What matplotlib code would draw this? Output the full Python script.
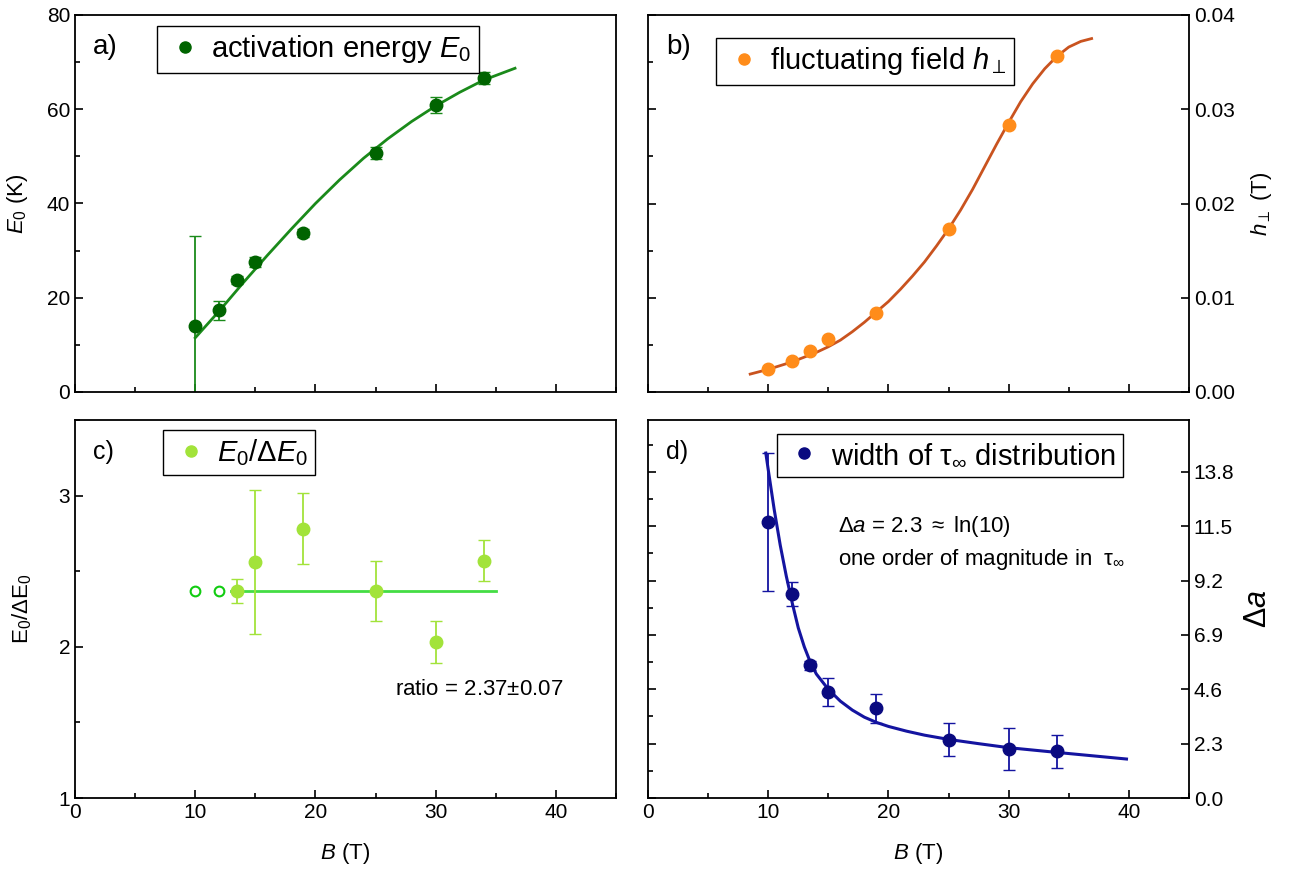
import numpy as np
import matplotlib
matplotlib.use('Agg')
import matplotlib.pyplot as plt
from matplotlib.lines import Line2D
from matplotlib.ticker import MultipleLocator, FixedLocator, FormatStrFormatter

plt.rcParams['font.family'] = ['Liberation Sans', 'DejaVu Sans']
plt.rcParams['mathtext.fontset'] = 'custom'
plt.rcParams['mathtext.rm'] = 'Liberation Sans'
plt.rcParams['mathtext.it'] = 'Liberation Sans:italic'
plt.rcParams['mathtext.bf'] = 'Liberation Sans:bold'

# field values (T)
B = [10, 12, 13.5, 15, 19, 25, 30, 34]

# a) activation energy
E0 = [14.0, 17.3, 23.8, 27.6, 33.7, 50.7, 61.0, 66.6]
E0_err = [19.2, 2.0, 0.8, 1.0, 0.9, 1.2, 1.7, 1.2]
fitA_B = [10, 12, 14, 16, 18, 20, 22, 24, 26, 28, 30, 32, 34, 36.6]
fitA_E = [11.5, 17.2, 23.2, 29.0, 34.6, 40.0, 45.0, 49.6, 53.7, 57.4, 60.7, 63.6, 66.2, 68.7]

# b) fluctuating field
h = [0.0024, 0.0033, 0.0043, 0.0056, 0.0084, 0.0173, 0.0283, 0.0357]
fitB_B = [8.5, 10, 11, 12, 13, 14, 15, 16, 17, 18, 19, 20, 21, 22, 23, 24, 25, 26, 27, 28,
          29, 30, 31, 32, 33, 34, 35, 36, 36.9]
fitB_h = [0.0019, 0.0024, 0.0028, 0.0032, 0.0037, 0.0042, 0.0048, 0.0055, 0.0064, 0.0074,
          0.0085, 0.0096, 0.0109, 0.0123, 0.0138, 0.0155, 0.0173, 0.0193, 0.0215, 0.0239,
          0.0263, 0.0286, 0.0308, 0.0327, 0.0343, 0.0356, 0.0366, 0.0372, 0.0375]

# c) ratio E0/dE0
Bc = [13.5, 15, 19, 25, 30, 34]
ratio = [2.37, 2.56, 2.78, 2.37, 2.03, 2.57]
ratio_err = [0.08, 0.475, 0.235, 0.2, 0.14, 0.135]
Bc_open = [10, 12]
ratio_open = [2.37, 2.37]
ratio_fit = 2.37
ratio_fit_B = [13, 35]

# d) width of tau distribution
da = [11.68, 8.64, 5.61, 4.48, 3.79, 2.47, 2.08, 1.98]
da_err = [2.93, 0.5, 0.2, 0.6, 0.6, 0.7, 0.88, 0.7]
fitD_B = [9.8, 10.0, 10.5, 11.0, 11.5, 12.0, 12.5, 13.0, 13.5, 14.0, 15.0, 16.0, 17.0, 18.0,
          19.0, 20.0, 21.5, 23.0, 25.0, 27.5, 30.0, 34.0, 39.8]
fitD_a = [14.6, 13.9, 12.2, 10.7, 9.4, 8.25, 7.2, 6.4, 5.75, 5.25, 4.6, 4.1, 3.72, 3.42,
          3.2, 3.03, 2.83, 2.66, 2.48, 2.3, 2.13, 1.93, 1.65]

W, H = 1298, 875
fig = plt.figure(figsize=(W / 100, H / 100), dpi=100)

def box(x0, x1, y0, y1):
    return [x0 / W, 1 - y1 / H, (x1 - x0) / W, (y1 - y0) / H]

axA = fig.add_axes(box(75, 616, 15, 392))
axB = fig.add_axes(box(648, 1189, 15, 392))
axC = fig.add_axes(box(75, 616, 420, 798))
axD = fig.add_axes(box(648, 1189, 420, 798))

tick_fs = 15
for ax in (axA, axB, axC, axD):
    ax.set_xlim(0, 45)
    ax.xaxis.set_major_locator(MultipleLocator(10))
    ax.xaxis.set_minor_locator(MultipleLocator(5))
    ax.tick_params(which='both', direction='in', top=False, labelsize=tick_fs, width=1.2)
    ax.tick_params(which='major', length=6)
    ax.tick_params(which='minor', length=3.5)
    for s in ax.spines.values():
        s.set_linewidth(1.3)

cA_pt, cA_ln = '#006400', '#1a8a1a'
cB_pt, cB_ln = '#ff8c1a', '#c9531f'
cC_pt, cC_open, cC_ln = '#a2e33a', '#11cc11', '#44dd44'
cD_pt, cD_ln = '#0a0a80', '#1414a0'

def leg(ax, color, label, x, y):
    handle = Line2D([], [], ls='', marker='o', ms=8, color=color)
    lg = ax.legend([handle], [label], loc='upper left', bbox_to_anchor=(x, y),
                   fontsize=21, frameon=True, fancybox=False, edgecolor='black',
                   framealpha=1, borderpad=0.25, handletextpad=0.2, handlelength=1.4,
                   borderaxespad=0)
    lg.get_frame().set_linewidth(1.0)

# a)
axA.errorbar(B, E0, yerr=E0_err, fmt='o', ms=9, color=cA_pt, ecolor=cA_ln, elinewidth=1.3, capsize=4)
axA.plot(fitA_B, fitA_E, color=cA_ln, lw=2)
axA.set_ylim(0, 80)
axA.yaxis.set_major_locator(MultipleLocator(20))
axA.yaxis.set_minor_locator(MultipleLocator(10))
axA.tick_params(labelbottom=False, right=False)
axA.set_ylabel('$E_0$ (K)', fontsize=16, labelpad=12)
axA.text(0.033, 0.915, 'a)', transform=axA.transAxes, fontsize=20, va='center')
leg(axA, cA_pt, 'activation energy $E_0$', 0.152, 0.971)

# b)
axB.plot(fitB_B, fitB_h, color=cB_ln, lw=2)
axB.plot(B, h, 'o', ms=9, color=cB_pt)
axB.set_ylim(0, 0.04)
axB.yaxis.set_major_locator(MultipleLocator(0.01))
axB.yaxis.set_minor_locator(MultipleLocator(0.005))
axB.yaxis.set_major_formatter(FormatStrFormatter('%.2f'))
axB.tick_params(labelbottom=False, left=True, right=True, labelleft=False, labelright=True)
axB.yaxis.set_label_position('right')
axB.set_ylabel(r'$h_\perp$ (T)', fontsize=16, labelpad=10)
axB.text(0.033, 0.915, 'b)', transform=axB.transAxes, fontsize=20, va='center')
leg(axB, cB_pt, r'fluctuating field $h_\perp$', 0.126, 0.939)

# c)
axC.plot(ratio_fit_B, [ratio_fit, ratio_fit], color=cC_ln, lw=2)
axC.errorbar(Bc, ratio, yerr=ratio_err, fmt='o', ms=9, color=cC_pt, ecolor=cC_pt, elinewidth=1.3, capsize=4)
axC.plot(Bc_open, ratio_open, 'o', ms=7, mfc='white', mec=cC_open, mew=1.5)
axC.set_ylim(1, 3.5)
axC.yaxis.set_major_locator(MultipleLocator(1))
axC.yaxis.set_minor_locator(MultipleLocator(0.5))
axC.tick_params(right=False)
axC.set_ylabel(r'$\mathrm{E_0/\Delta E_0}$', fontsize=16, labelpad=18)
axC.set_xlabel('$B$ (T)', fontsize=16, labelpad=14)
axC.text(0.033, 0.915, 'c)', transform=axC.transAxes, fontsize=18, va='center')
axC.text(26.6, 1.72, r'ratio = 2.37$\pm$0.07', fontsize=16, va='center')
leg(axC, cC_pt, r'$E_0/\Delta E_0$', 0.163, 0.974)

# d)
axD.errorbar(B, da, yerr=da_err, fmt='o', ms=9, color=cD_pt, ecolor=cD_ln, elinewidth=1.3, capsize=4)
axD.plot(fitD_B, fitD_a, color=cD_ln, lw=2.2)
axD.set_ylim(0, 16)
axD.yaxis.set_major_locator(FixedLocator([0, 2.3, 4.6, 6.9, 9.2, 11.5, 13.8]))
axD.yaxis.set_minor_locator(FixedLocator([1.15, 3.45, 5.75, 8.05, 10.35, 12.65, 14.95]))
axD.yaxis.set_major_formatter(FormatStrFormatter('%.1f'))
axD.tick_params(left=True, right=True, labelleft=False, labelright=True)
axD.yaxis.set_label_position('right')
axD.set_ylabel(r'$\Delta a$', fontsize=22, labelpad=6)
axD.set_xlabel('$B$ (T)', fontsize=16, labelpad=14)
axD.text(0.033, 0.915, 'd)', transform=axD.transAxes, fontsize=18, va='center')
axD.text(15.8, 11.5, r'$\Delta a$ = 2.3 $\approx$ ln(10)', fontsize=16, va='center')
axD.text(15.8, 10.1, r'one order of magnitude in  $\mathrm{\tau}_\infty$', fontsize=16, va='center')
leg(axD, cD_pt, r'width of $\mathrm{\tau}_\infty$ distribution', 0.238, 0.963)

fig.savefig('out.png', dpi=100)
